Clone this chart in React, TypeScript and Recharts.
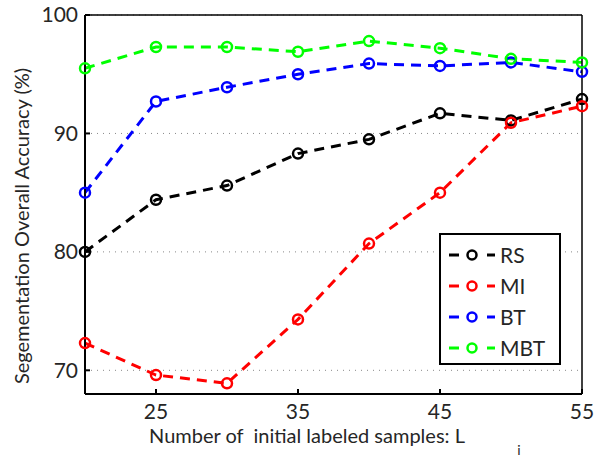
import { LineChart, Line, XAxis, YAxis, CartesianGrid } from 'recharts';

const samples = [20, 25, 30, 35, 40, 45, 50, 55];
const rsAcc = [80.0, 84.4, 85.6, 88.3, 89.5, 91.7, 91.1, 92.9];
const miAcc = [72.3, 69.6, 68.9, 74.3, 80.7, 85.0, 90.9, 92.3];
const btAcc = [85.0, 92.7, 93.9, 95.0, 95.9, 95.7, 96.0, 95.2];
const mbtAcc = [95.5, 97.3, 97.3, 96.9, 97.8, 97.2, 96.3, 96.0];

const xTicks = [25, 35, 45, 55];
const yTicks = [70, 80, 90, 100];

const seriesList = [
  { key: 'RS', color: '#000000' },
  { key: 'MI', color: '#ff0000' },
  { key: 'BT', color: '#0000ff' },
  { key: 'MBT', color: '#00ff00' },
];

const data = samples.map((x, i) => ({
  x,
  RS: rsAcc[i],
  MI: miAcc[i],
  BT: btAcc[i],
  MBT: mbtAcc[i],
}));

const FONT = 'Lato, "Open Sans", sans-serif';
const TEXT = '#262626';

function LegendBox() {
  return (
    <div
      style={{
        position: 'absolute',
        left: 439,
        top: 233,
        width: 118,
        height: 128,
        border: '2px solid #000',
        background: '#fff',
        fontFamily: FONT,
        fontSize: 21,
        color: TEXT,
      }}
    >
      {seriesList.map((s, i) => (
        <div key={s.key} style={{ position: 'absolute', left: 2, top: 8 + i * 31, height: 24, display: 'flex', alignItems: 'center' }}>
          <svg width={56} height={24}>
            <line x1={6} x2={16} y1={12} y2={12} stroke={s.color} strokeWidth={3} />
            <circle cx={29} cy={12} r={4.5} fill="none" stroke={s.color} strokeWidth={2.5} />
            <line x1={44} x2={52} y1={12} y2={12} stroke={s.color} strokeWidth={3} />
          </svg>
          <span style={{ marginLeft: 1, lineHeight: '24px' }}>{s.key}</span>
        </div>
      ))}
    </div>
  );
}

export default function App() {
  return (
    <div style={{ position: 'absolute', left: 0, top: 0, width: 596, height: 459, background: '#fff' }}>
      <LineChart width={596} height={459} data={data} margin={{ top: 14, right: 13, left: 0, bottom: 0 }}>
        <CartesianGrid vertical={false} stroke="#888" strokeDasharray="1 5" />
        <XAxis
          xAxisId={0}
          dataKey="x"
          type="number"
          domain={[20, 55]}
          ticks={xTicks}
          height={65}
          stroke="#000"
          strokeWidth={2}
          tickSize={-5}
          tickMargin={15}
          tick={{ fill: TEXT, fontSize: 21, fontFamily: FONT }}
          label={{
            content: () => (
              <g fontFamily={FONT} fill={TEXT}>
                <text x={307} y={443} textAnchor="middle" fontSize={20}>
                  {'Number of\u00A0 initial labeled samples: L'}
                </text>
                <text x={519} y={455} textAnchor="middle" fontSize={14}>i</text>
              </g>
            ),
          }}
        />
        <XAxis
          xAxisId="top"
          orientation="top"
          dataKey="x"
          type="number"
          domain={[20, 55]}
          ticks={xTicks}
          height={1}
          stroke="#000"
          strokeWidth={1.5}
          tickSize={-5}
          tick={false}
        />
        <YAxis
          yAxisId={0}
          type="number"
          domain={[68, 100]}
          ticks={yTicks}
          width={85}
          stroke="#000"
          strokeWidth={2}
          tickSize={-5}
          tickMargin={12}
          tick={{ fill: TEXT, fontSize: 21, fontFamily: FONT }}
          label={{
            content: () => (
              <text
                x={21}
                y={226}
                transform="rotate(-90, 21, 226)"
                textAnchor="middle"
                dominantBaseline="central"
                fontSize={20}
                fontFamily={FONT}
                fill={TEXT}
              >
                Segementation Overall Accuracy (%)
              </text>
            ),
          }}
        />
        <YAxis
          yAxisId="right"
          orientation="right"
          type="number"
          domain={[68, 100]}
          ticks={yTicks}
          width={1}
          stroke="#000"
          strokeWidth={1.5}
          tickSize={-5}
          tick={false}
        />
        {seriesList.map((s) => (
          <Line
            key={s.key}
            xAxisId={0}
            yAxisId={0}
            type="linear"
            dataKey={s.key}
            stroke={s.color}
            strokeWidth={3}
            strokeDasharray="10 7"
            dot={{ r: 5, fill: 'none', stroke: s.color, strokeWidth: 2.5, strokeDasharray: '' }}
            activeDot={false}
            isAnimationActive={false}
          />
        ))}
      </LineChart>
      <LegendBox />
    </div>
  );
}
